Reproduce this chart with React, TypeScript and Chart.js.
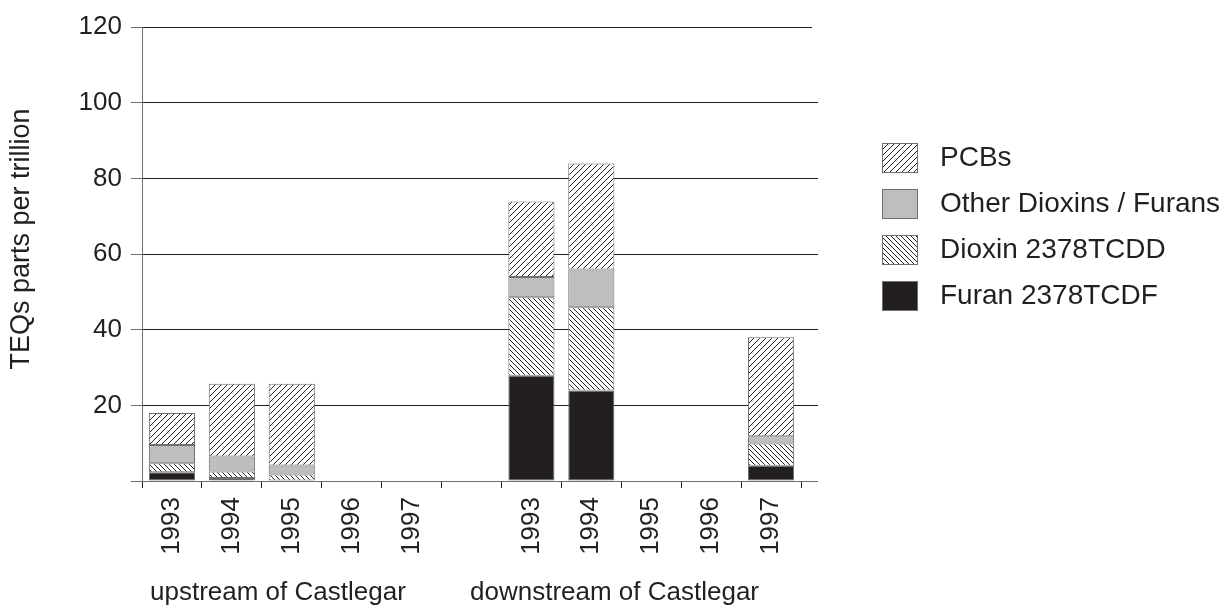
import React, { useEffect, useRef } from "react";
import { Chart, registerables } from "chart.js";

Chart.register(...registerables);

const categories = ["1993", "1994", "1995", "1996", "1997", "", "1993", "1994", "1995", "1996", "1997"];
const furan = [2.3, 0.8, null, null, null, null, 27.8, 23.9, null, null, 4.0];
const dioxin = [2.4, 1.7, 1.7, null, null, null, 20.8, 22.0, null, null, 5.9];
const otherDioxins = [4.8, 4.0, 2.4, null, null, null, 5.3, 10.0, null, null, 1.9];
const pcbs = [8.5, 19.2, 21.6, null, null, null, 20.0, 28.0, null, null, 26.2];
const seriesNames = ["Furan 2378TCDF", "Dioxin 2378TCDD", "Other Dioxins / Furans", "PCBs"];
const groupLabels = ["upstream of Castlegar", "downstream of Castlegar"];
const yTitle = "TEQs parts per trillion";

const INK = "#231f20";
const AXIS = "#6d6e70";
const FONT = "'Liberation Sans', Arial, Helvetica, sans-serif";

function makeHatch(dir: "fwd" | "back", size: number): CanvasPattern | string {
  const c = document.createElement("canvas");
  c.width = size;
  c.height = size;
  const ctx = c.getContext("2d");
  if (!ctx) return "#fff";
  ctx.fillStyle = "#ffffff";
  ctx.fillRect(0, 0, size, size);
  ctx.strokeStyle = INK;
  ctx.lineWidth = 1;
  ctx.beginPath();
  if (dir === "fwd") {
    ctx.moveTo(0, size);
    ctx.lineTo(size, 0);
    ctx.moveTo(-1, 1);
    ctx.lineTo(1, -1);
    ctx.moveTo(size - 1, size + 1);
    ctx.lineTo(size + 1, size - 1);
  } else {
    ctx.moveTo(0, 0);
    ctx.lineTo(size, size);
    ctx.moveTo(-1, size - 1);
    ctx.lineTo(1, size + 1);
    ctx.moveTo(size - 1, -1);
    ctx.lineTo(size + 1, 1);
  }
  ctx.stroke();
  const p = ctx.createPattern(c, "repeat");
  return p || "#fff";
}

const align = (px: number) => Math.round(px - 0.5) + 0.5;

export default function App() {
  const ref = useRef<HTMLCanvasElement | null>(null);

  useEffect(() => {
    const canvas = ref.current;
    if (!canvas) return;
    const pcbFill = makeHatch("fwd", 6);
    const dioxinFill = makeHatch("back", 5);
    const fills = [INK, dioxinFill, "#bcbec0", pcbFill];
    const seriesData = [furan, dioxin, otherDioxins, pcbs];

    const extendPlugin = {
      id: "extendLines",
      afterDraw(chart: any) {
        const ctx = chart.ctx;
        const area = chart.chartArea;
        const y = chart.scales.y;
        ctx.save();
        ctx.lineWidth = 1;
        y.ticks.forEach((t: any) => {
          const py = align(y.getPixelForValue(t.value));
          ctx.strokeStyle = t.value === 0 ? AXIS : INK;
          ctx.beginPath();
          ctx.moveTo(area.right - 1, py);
          ctx.lineTo(area.right + (t.value === 120 ? 11 : 17), py);
          ctx.stroke();
        });
        ctx.restore();
      },
    };

    const textPlugin = {
      id: "extraText",
      afterDraw(chart: any) {
        const ctx = chart.ctx;
        ctx.save();
        ctx.fillStyle = INK;
        ctx.font = `26px ${FONT}`;
        ctx.textBaseline = "alphabetic";
        ctx.textAlign = "left";
        ctx.fillText(groupLabels[0], 150, 600);
        ctx.fillText(groupLabels[1], 470, 600);

        // y title
        ctx.save();
        ctx.font = `27px ${FONT}`;
        ctx.translate(22, 239);
        ctx.rotate(-Math.PI / 2);
        ctx.textAlign = "center";
        ctx.textBaseline = "middle";
        ctx.fillText(yTitle, 0, 0);
        ctx.restore();

        // legend
        ctx.font = `28px ${FONT}`;
        const order = [3, 2, 1, 0];
        order.forEach((di, i) => {
          const cy = 158 + i * 46;
          ctx.fillStyle = fills[di] as any;
          ctx.fillRect(882, cy - 15, 36, 30);
          ctx.strokeStyle = AXIS;
          ctx.lineWidth = 1;
          ctx.strokeRect(882.5, cy - 14.5, 35, 29);
          ctx.fillStyle = INK;
          ctx.textBaseline = "middle";
          ctx.fillText(seriesNames[di], 940, cy);
        });
        ctx.restore();
      },
    };

    const chart = new Chart(canvas, {
      type: "bar",
      data: {
        labels: categories,
        datasets: seriesData.map((d, i) => ({
          label: seriesNames[i],
          data: d as any,
          backgroundColor: fills[i] as any,
          borderColor: AXIS,
          borderWidth: 1,
          borderSkipped: false,
          categoryPercentage: 1,
          barPercentage: 0.77,
          stack: "s",
        })),
      },
      options: {
        responsive: false,
        animation: false,
        layout: { padding: { top: 27, right: 429, bottom: 0, left: 0 } },
        plugins: { legend: { display: false }, tooltip: { enabled: false } },
        scales: {
          x: {
            stacked: true,
            afterFit: (s: any) => {
              s.height = 133;
            },
            border: { color: AXIS, width: 1 },
            grid: {
              offset: true,
              drawOnChartArea: false,
              drawTicks: true,
              tickLength: 7,
              color: INK,
            },
            ticks: {
              minRotation: 90,
              maxRotation: 90,
              autoSkip: false,
              padding: 9,
              color: INK,
              font: { family: FONT, size: 26 },
            },
          },
          y: {
            stacked: true,
            min: 0,
            max: 120,
            afterFit: (s: any) => {
              s.width = 142;
            },
            border: { color: AXIS, width: 1 },
            grid: {
              color: (c: any) => (c.tick && c.tick.value === 0 ? AXIS : INK),
              tickLength: 11,
              tickColor: AXIS,
            },
            ticks: {
              stepSize: 20,
              padding: 9,
              color: INK,
              font: { family: FONT, size: 26 },
              callback: (v: any) => (v === 0 ? "" : String(v)),
            },
          },
        },
      },
      plugins: [extendPlugin, textPlugin],
    });
    return () => chart.destroy();
  }, []);

  return (
    <div style={{ position: "absolute", left: 0, top: 0, width: 1230, height: 614, background: "#fff" }}>
      <canvas ref={ref} width={1230} height={614} />
    </div>
  );
}
